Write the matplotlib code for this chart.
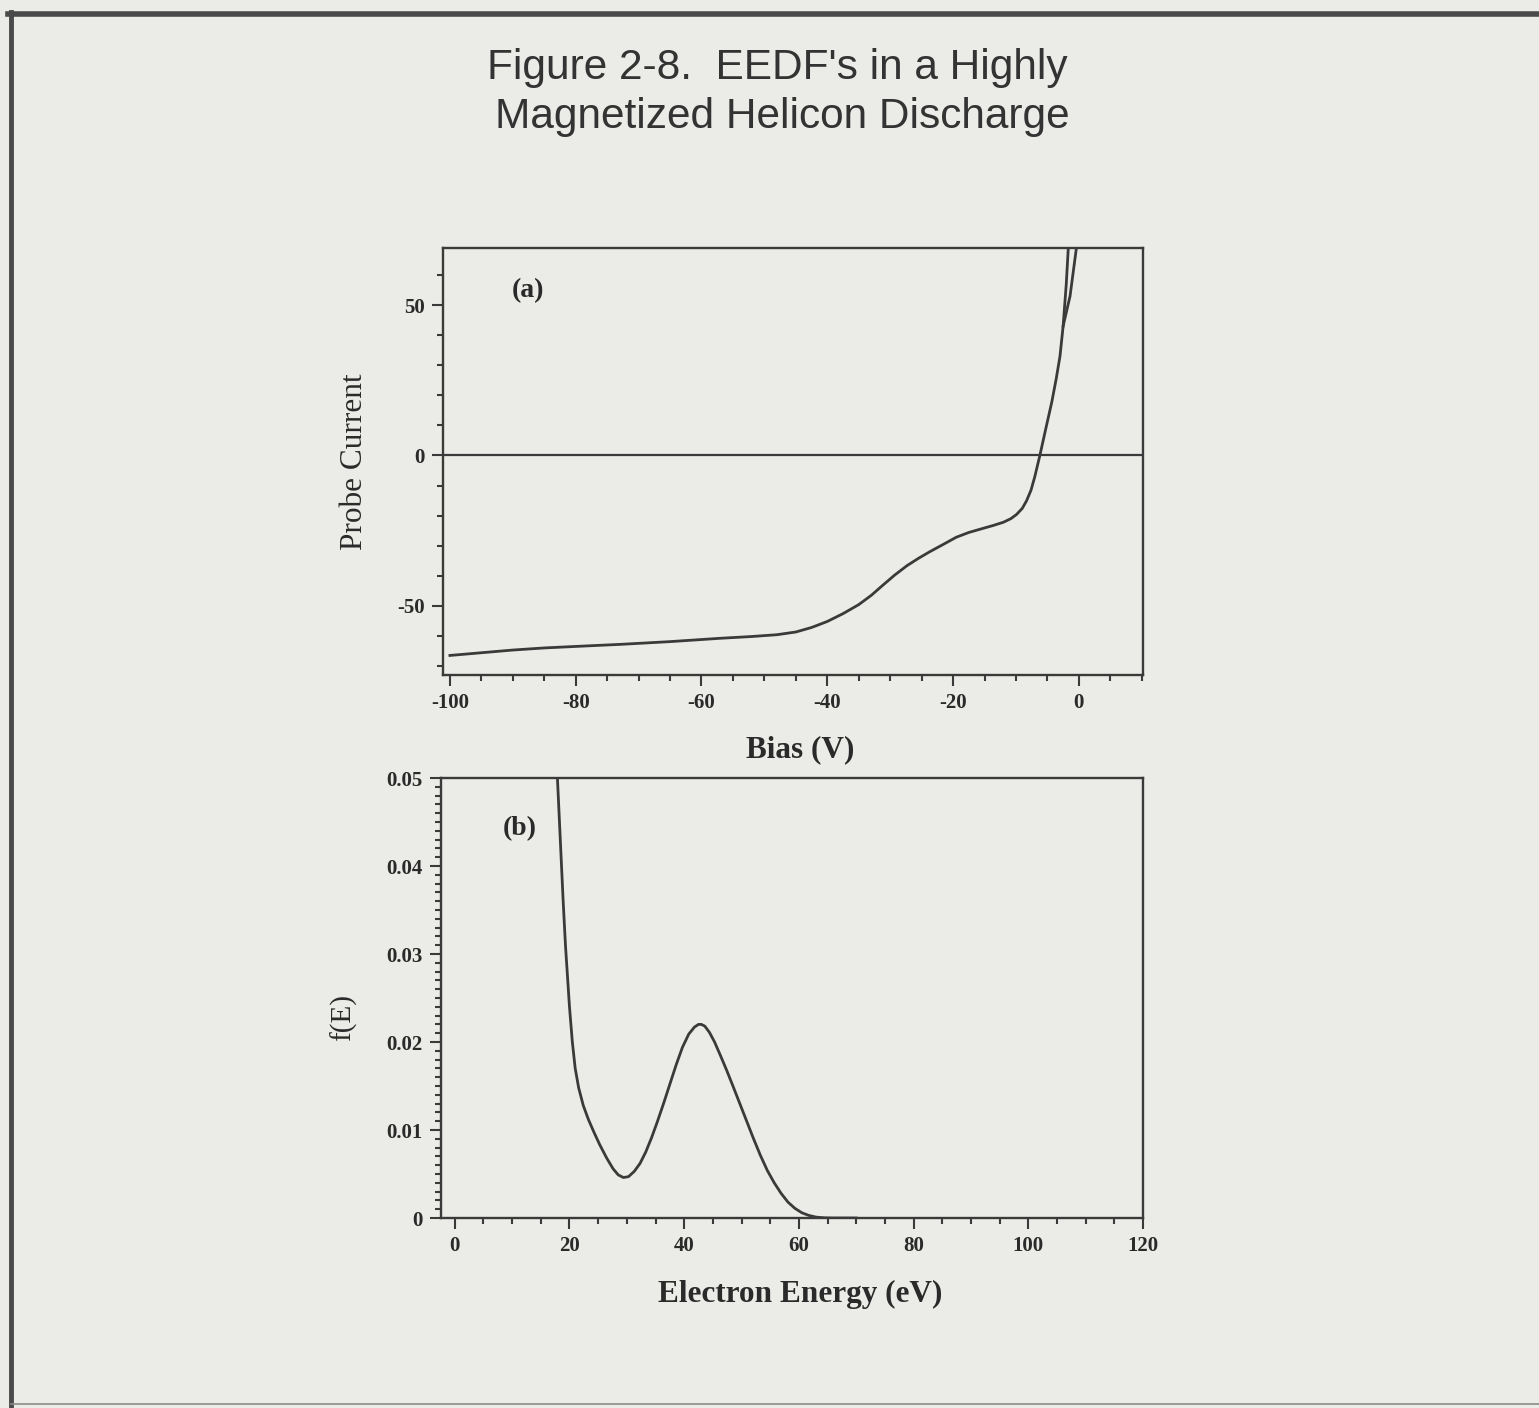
"""Scanned figure: probe I-V trace and EEDF in a magnetized helicon discharge."""
import numpy as np
import matplotlib

matplotlib.use("Agg")
import matplotlib.pyplot as plt
from matplotlib.lines import Line2D
from matplotlib.ticker import MultipleLocator

plt.rcParams["axes.unicode_minus"] = False

# ----------------------------------------------------------------------
# data
# ----------------------------------------------------------------------
bias_v = [-100, -95, -90, -85, -80, -72.8, -65, -57.1, -52, -48, -45, -42.5,
          -40, -37.5, -35, -33, -31.2, -29.3, -27.3, -25.5, -23.7, -21.5,
          -19.5, -17.5, -15.5, -13.5, -12.0, -10.8, -9.9, -9.0, -8.3, -7.6,
          -7.0, -6.2, -5.3, -4.3, -3.6, -3.0, -2.5, -2.0, -1.6]
probe_current = [-66.5, -65.6, -64.7, -64.0, -63.5, -62.8, -61.9, -60.8,
                 -60.2, -59.6, -58.7, -57.2, -55.2, -52.6, -49.6, -46.5,
                 -43.2, -39.8, -36.6, -34.2, -32.0, -29.5, -27.2, -25.6,
                 -24.4, -23.2, -22.2, -21.0, -19.6, -17.6, -15.0, -11.5,
                 -7.0, 0.0, 8.5, 17.8, 25.5, 33.0, 43.0, 57.0, 72.0]

# second (return) sweep near the top right
bias_ret = [-2.5, -1.4, -0.2]
current_ret = [43.0, 53.0, 72.0]

energy_ev = [17.9, 18.4, 18.9, 19.3, 19.7, 20.0, 20.5, 21.0, 21.6, 22.4,
             23.3, 24.3, 25.3, 26.5, 27.6, 28.5, 29.4, 30.3, 31.3, 32.3,
             33.3, 34.3, 35.3, 36.4, 37.5, 38.6, 39.7, 40.8, 41.8, 42.5,
             43.0, 43.6, 44.4, 45.3, 46.3, 47.4, 48.5, 49.7, 50.9, 52.1,
             53.3, 54.5, 55.7, 56.9, 58.1, 59.3, 60.5, 61.7, 63.0, 64.5,
             66.0, 70.0]
f_e = [0.050, 0.043, 0.036, 0.031, 0.027, 0.0240, 0.0200, 0.0170, 0.0148,
       0.0128, 0.0112, 0.0097, 0.0083, 0.0068, 0.0056, 0.0049, 0.0046,
       0.0047, 0.0053, 0.0062, 0.0075, 0.0091, 0.0109, 0.0130, 0.0152,
       0.0174, 0.0194, 0.0209, 0.0217, 0.0220, 0.0220, 0.0218, 0.0211,
       0.0200, 0.0185, 0.0168, 0.0150, 0.0130, 0.0110, 0.0090, 0.0071,
       0.0054, 0.0040, 0.0028, 0.0018, 0.0011, 0.0006, 0.0003, 0.0001,
       0.00002, 0.0, 0.0]

a_yticks = [-50, 0, 50]
a_xticks = [-100, -80, -60, -40, -20, 0]
b_yticks = [0, 0.01, 0.02, 0.03, 0.04, 0.05]
b_yticklabels = ["0", "0.01", "0.02", "0.03", "0.04", "0.05"]
b_xticks = [0, 20, 40, 60, 80, 100, 120]

# ----------------------------------------------------------------------
# styling
# ----------------------------------------------------------------------
BG = "#ebebe7"
INK = "#3a3a3a"
TXT = "#2a2a2a"
SERIF = ["Liberation Serif", "DejaVu Serif"]
SANS = ["Liberation Sans", "DejaVu Sans"]

W, H = 1539, 1408
fig = plt.figure(figsize=(W / 100, H / 100), dpi=100, facecolor=BG)


def px_axes(left, top, right, bottom):
    """Axes rectangle given in pixel coords of the image."""
    return fig.add_axes([left / W, 1 - bottom / H,
                         (right - left) / W, (bottom - top) / H])


def style(ax):
    ax.set_facecolor(BG)
    for s in ax.spines.values():
        s.set_color(INK)
        s.set_linewidth(1.7)
    ax.tick_params(which="both", direction="out", color=INK, width=1.5)
    ax.tick_params(which="major", length=8, pad=5, labelsize=15,
                   labelcolor=TXT)
    ax.tick_params(which="minor", length=4.5)
    for lab in ax.get_xticklabels() + ax.get_yticklabels():
        lab.set_family(SERIF)
        lab.set_fontweight("bold")


# ---- panel (a): probe I-V ---------------------------------------------
ax1 = px_axes(443, 248, 1143, 675)
ax1.plot(bias_v, probe_current, color=INK, lw=2.0)
ax1.plot(bias_ret, current_ret, color=INK, lw=2.0)
ax1.axhline(0, color=INK, lw=1.6)
ax1.set_xlim(-101.1, 10.2)
ax1.set_ylim(-73, 69)
ax1.set_xticks(a_xticks)
ax1.set_yticks(a_yticks)
ax1.xaxis.set_minor_locator(MultipleLocator(5))
ax1.yaxis.set_minor_locator(MultipleLocator(10))
style(ax1)
ax1.set_xlabel("Bias (V)", family=SERIF, fontsize=22.5, color=TXT,
               fontweight="bold")
ax1.set_ylabel("Probe Current", family=SERIF, fontsize=22.5, color=TXT)
ax1.xaxis.set_label_coords(0.51, -0.14)
ax1.yaxis.set_label_coords(-0.106, 0.5)
ax1.text(0.121, 0.90, "(a)", transform=ax1.transAxes, family=SERIF,
         fontsize=20, fontweight="bold", color=TXT,
         ha="center", va="center")

# ---- panel (b): EEDF ---------------------------------------------------
ax2 = px_axes(441, 778, 1143, 1218)
ax2.plot(energy_ev, f_e, color=INK, lw=2.0)
ax2.set_xlim(-2.4, 120)
ax2.set_ylim(0, 0.05)
ax2.set_xticks(b_xticks)
ax2.set_yticks(b_yticks)
ax2.set_yticklabels(b_yticklabels)
ax2.xaxis.set_minor_locator(MultipleLocator(5))
ax2.yaxis.set_minor_locator(MultipleLocator(0.001))
style(ax2)
ax2.set_xlabel("Electron Energy (eV)", family=SERIF, fontsize=22.5,
               color=TXT, fontweight="bold")
ax2.set_ylabel("f(E)", family=SERIF, fontsize=21, color=TXT)
ax2.xaxis.set_label_coords(0.511, -0.14)
ax2.yaxis.set_label_coords(-0.12, 0.455)
ax2.text(0.1125, 0.886, "(b)", transform=ax2.transAxes, family=SERIF,
         fontsize=20, fontweight="bold", color=TXT,
         ha="center", va="center")

# ---- title + scan frame ------------------------------------------------
fig.text(777 / W, 1 - 68 / H, "Figure 2-8.  EEDF's in a Highly",
         family=SANS, fontsize=30.5, color="#333333", ha="center",
         va="center")
fig.text(782 / W, 1 - 117 / H, "Magnetized Helicon Discharge",
         family=SANS, fontsize=30.5, color="#333333", ha="center",
         va="center")

fig.add_artist(Line2D([8 / W, 1], [1 - 14 / H, 1 - 14 / H],
                      color="#4a4a4a", lw=4))
fig.add_artist(Line2D([11 / W, 11 / W], [1 - 12 / H, 0],
                      color="#4a4a4a", lw=3.5))
fig.add_artist(Line2D([11 / W, 1], [1 - 1404 / H, 1 - 1404 / H],
                      color="#8a8a8a", lw=1.2))

fig.savefig("out.png", dpi=100, facecolor=BG)
